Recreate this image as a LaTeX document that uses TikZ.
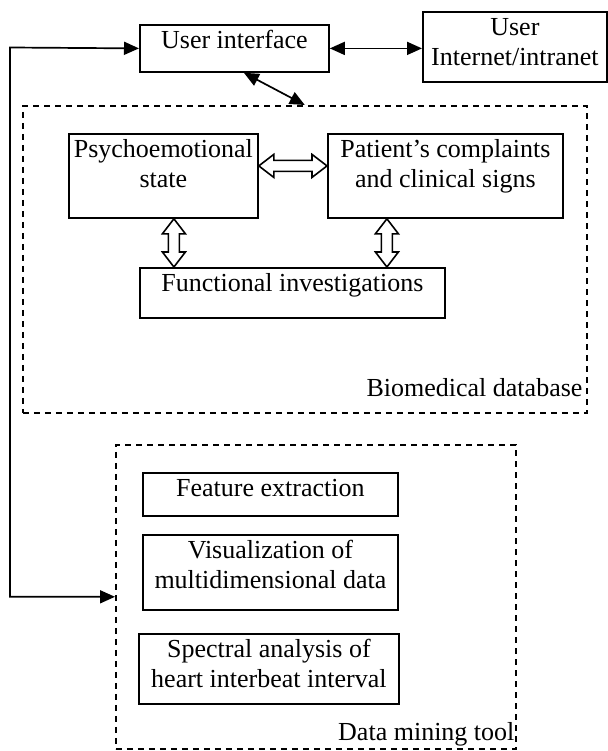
\documentclass[tikz,border=0pt]{standalone}
\usepackage{fontspec}
\setmainfont{Liberation Serif}
\usetikzlibrary{arrows.meta,calc}
\newcommand{\boxtext}[3]{\parbox[t][#2][t]{#1}{\centering\vspace*{3pt}\strut #3}}
\tikzset{
  blk/.style={draw, line width=1.8pt, inner sep=0pt, anchor=north west},
  grp/.style={draw, line width=1.6pt, dash pattern=on 6pt off 5pt, inner sep=0pt, anchor=north west},
  conn/.style={line width=1.7pt},
  lab/.style={inner sep=0pt, anchor=base east},
  hh/.style={draw, line width=1.6pt, fill=white, to path={
    let \p1=(\tikztostart), \p2=(\tikztotarget) in
    -- ++(15pt,11.5pt) -- ++(0,-6pt) -- (\x2-15pt,\y1+5.5pt) -- ++(0,6pt) -- (\x2,\y2)
    -- ++(-15pt,-11.5pt) -- ++(0,6pt) -- (\x1+15pt,\y1-5.5pt) -- ++(0,-6pt) -- cycle}},
  hv/.style={draw, line width=1.6pt, fill=white, to path={
    let \p1=(\tikztostart), \p2=(\tikztotarget) in
    -- ++(11.5pt,-15pt) -- ++(-6pt,0) -- (\x1+5.5pt,\y2+15pt) -- ++(6pt,0) -- (\x2,\y2)
    -- ++(-11.5pt,15pt) -- ++(6pt,0) -- (\x1-5.5pt,\y1-15pt) -- ++(-6pt,0) -- cycle}}
}
\begin{document}
\begin{tikzpicture}[x=1pt, y=-1pt, font=\fontsize{26}{30}\selectfont, >={Triangle[length=15pt,width=13pt]}]
  \fill[white] (0,0) rectangle (607,751);
  \useasboundingbox (0,0) rectangle (607,751);
  % groups
  \node [grp, minimum width=564pt, minimum height=307pt] (bio) at (22,105) {};
  \node [grp, minimum width=400pt, minimum height=304pt] (dm) at (115,444) {};
  \node [lab] (biolab) at ([xshift=-5pt, yshift=17pt]bio.south east) {Biomedical database};
  \node [lab] (dmlab) at ([xshift=-2pt, yshift=9pt]dm.south east) {Data mining tool};
  % boxes
  \node [blk] (ui)  at (139,24)  {\boxtext{189pt}{47pt}{User interface}};
  \node [blk] (usr) at (422,11)  {\boxtext{184pt}{70pt}{User\\Internet/intranet}};
  \node [blk] (psy) at (68,133)  {\boxtext{189pt}{84pt}{Psychoemotional\\state}};
  \node [blk] (pat) at (327,133) {\boxtext{235pt}{84pt}{Patient’s complaints\\and clinical signs}};
  \node [blk] (fun) at (139,267) {\boxtext{305pt}{50pt}{Functional investigations}};
  \node [blk] (fea) at (142,472) {\boxtext{255pt}{43pt}{Feature extraction}};
  \node [blk] (vis) at (142,534) {\boxtext{255pt}{75pt}{Visualization of\\multidimensional data}};
  \node [blk] (spe) at (138,633) {\boxtext{260pt}{70pt}{Spectral analysis of\\heart interbeat interval}};
  % connectors
  \coordinate (bend) at (10,47.5);
  \draw [conn, <->] (ui.west) -- (bend) |- (dm.west);
  \draw [conn, <->] (ui.east) -- (ui.east -| usr.west);
  \draw [conn, <->] ([xshift=9.5pt]ui.south) -- (bio.north);
  \coordinate (h1) at ([yshift=10pt]psy.east);
  \draw [hh] (h1) to (h1 -| pat.west);
  \coordinate (v1) at ([xshift=10.5pt]psy.south);
  \draw [hv] (v1) to (v1 |- fun.north);
  \coordinate (v2) at ([xshift=-58.5pt]pat.south);
  \draw [hv] (v2) to (v2 |- fun.north);
\end{tikzpicture}
\end{document}
